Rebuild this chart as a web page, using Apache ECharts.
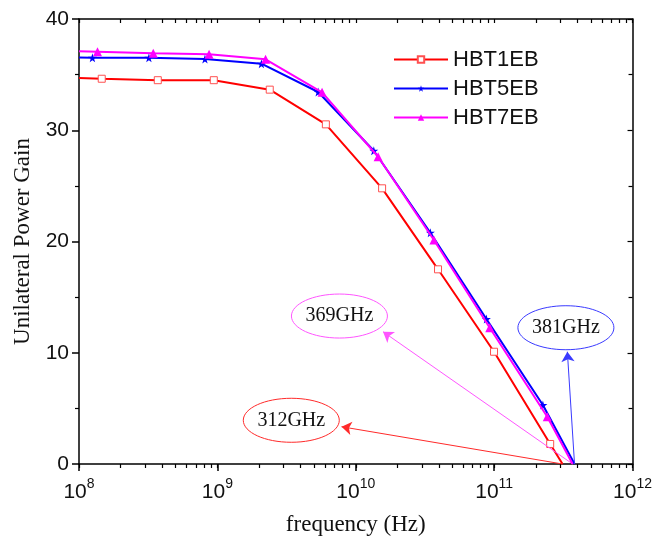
<!DOCTYPE html>
<html>
<head>
<meta charset="utf-8">
<script src="https://cdn.jsdelivr.net/npm/echarts@6/dist/echarts.min.js"></script>
<style>
html,body{margin:0;padding:0;background:#fff;}
#c{width:655px;height:547px;}
</style>
</head>
<body>
<div id="c"></div>
<script>
// ---- data ----
var seriesNames = ['HBT1EB', 'HBT5EB', 'HBT7EB'];
var freqHBT1 = [1e8, 1.46e8, 3.71e8, 9.42e8, 2.39e9, 6.08e9, 1.55e10, 3.93e10, 9.98e10, 2.54e11, 3.12e11];
var gainHBT1 = [34.7, 34.63, 34.5, 34.5, 33.65, 30.53, 24.78, 17.5, 10.09, 1.8, 0];
var freqHBT5 = [1e8, 1.25e8, 3.2e8, 8.13e8, 2.08e9, 5.35e9, 1.35e10, 3.46e10, 8.79e10, 2.25e11, 3.81e11];
var gainHBT5 = [36.55, 36.52, 36.52, 36.40, 35.98, 33.44, 28.16, 20.79, 13.03, 5.30, 0];
var freqHBT7 = [1e8, 1.36e8, 3.44e8, 8.71e8, 2.23e9, 5.71e9, 1.45e10, 3.67e10, 9.29e10, 2.42e11, 3.69e11];
var gainHBT7 = [37.1, 37.06, 36.92, 36.83, 36.38, 33.41, 27.62, 20.13, 12.25, 4.25, 0];
var xMajorTicks = [1e8, 1e9, 1e10, 1e11, 1e12];
// annotations per series (HBT1EB, HBT5EB, HBT7EB): label, arrow start, arrow end, ellipse centre
var annLabels = ['312GHz', '381GHz', '369GHz'];
var annStart = [[3.12e11, 0], [3.81e11, 0], [3.69e11, 0]];
var annEnd = [[7.89e9, 3.35], [3.38e11, 10.09], [1.574e10, 11.89]];
var annCentre = [[3.42e9, 3.93], [3.30e11, 12.25], [7.62e9, 13.3]];

var colors = ['#ff0000', '#0000ff', '#ff00ff'];
var annLineColors = ['#ff2a2a', '#3a3aff', '#ff55ff'];
var starPath = 'path://M50,0 L61,35 L98,35 L68,57 L79,91 L50,70 L21,91 L32,57 L2,35 L39,35 Z';

var minorTicks = [];
for (var e = 8; e < 12; e++) {
  for (var m = 1; m < 10; m++) minorTicks.push(m * Math.pow(10, e));
}
minorTicks.push(1e12);

function mk(freq, gain) {
  return freq.map(function (f, i) {
    var it = { value: [f, gain[i]] };
    if (i === 0 || i === freq.length - 1) it.symbol = 'none';
    return it;
  });
}

var serif = '"Liberation Serif", "Times New Roman", serif';
var sans = '"Liberation Sans", Arial, sans-serif';

var chart = echarts.init(document.getElementById('c'), null, { renderer: 'canvas' });

function logAxis(pos, opts) {
  var base = {
    type: 'log', logBase: 10, min: 1e8, max: 1e12, position: pos,
    gridIndex: 0, splitLine: { show: false },
    axisLine: { show: true, onZero: false, lineStyle: { color: '#000', width: 1.5 } },
    axisLabel: { show: false },
    axisTick: { show: false },
    minorTick: { show: false }
  };
  return Object.assign(base, opts);
}

var seriesData = [[freqHBT1, gainHBT1], [freqHBT5, gainHBT5], [freqHBT7, gainHBT7]];
var symbols = ['rect', starPath, 'triangle'];
var symbolSizes = [7, 9, 9];

var series = seriesData.map(function (d, k) {
  return {
    name: seriesNames[k],
    type: 'line',
    xAxisIndex: 0, yAxisIndex: 0,
    data: mk(d[0], d[1]),
    symbol: symbols[k],
    symbolSize: symbolSizes[k],
    showAllSymbol: true,
    lineStyle: { color: colors[k], width: 2 },
    itemStyle: k === 0 ? { color: '#fff', borderColor: '#ff5050', borderWidth: 1 } : { color: colors[k], borderWidth: 0 },
    z: k === 0 ? 3 : (k === 1 ? 4 : 5),
    animation: false,
    markLine: {
      silent: true, animation: false,
      symbol: ['none', 'arrow'], symbolSize: 10,
      label: { show: false },
      lineStyle: { color: annLineColors[k], width: 1, type: 'solid' },
      data: [[{ coord: annStart[k] }, { coord: annEnd[k] }]]
    }
  };
});

chart.setOption({
  backgroundColor: '#fff',
  animation: false,
  grid: { left: 79, top: 19, right: 22, bottom: 83, containLabel: false },
  legend: {
    left: 393, top: 47, orient: 'vertical', itemGap: 4, padding: 0,
    itemWidth: 54, itemHeight: 8,
    textStyle: { fontFamily: sans, fontSize: 22, color: '#111', lineHeight: 25 },
    data: seriesNames
  },
  xAxis: [
    logAxis('bottom', {
      name: 'frequency (Hz)', nameLocation: 'middle', nameGap: 49,
      nameTextStyle: { fontFamily: serif, fontSize: 23, color: '#111' },
      axisTick: { show: true, length: 7, inside: false, customValues: xMajorTicks, lineStyle: { color: '#000', width: 1.5 } },
      axisLabel: {
        show: true, margin: 13, customValues: xMajorTicks,
        formatter: function (v) {
          return '{b|10}{s|' + Math.round(Math.log10(v)) + '}';
        },
        rich: {
          b: { fontFamily: sans, fontSize: 21, color: '#111', verticalAlign: 'bottom' },
          s: { fontFamily: sans, fontSize: 14, color: '#111', verticalAlign: 'top', padding: [0, 0, 12, 0] }
        }
      }
    }),
    logAxis('bottom', {
      axisLine: { show: false },
      axisTick: { show: true, length: 4, inside: false, customValues: minorTicks, lineStyle: { color: '#000', width: 1.2 } }
    }),
    logAxis('top', {
      axisTick: { show: true, length: 4, inside: true, customValues: minorTicks, lineStyle: { color: '#000', width: 1.2 } }
    })
  ],
  yAxis: [
    {
      type: 'value', min: 0, max: 40, interval: 10, position: 'left',
      name: 'Unilateral Power Gain', nameLocation: 'middle', nameGap: 45,
      nameTextStyle: { fontFamily: serif, fontSize: 23, color: '#111' },
      splitLine: { show: false },
      axisLine: { show: true, onZero: false, lineStyle: { color: '#000', width: 1.5 } },
      axisTick: { show: true, length: 7, inside: false, lineStyle: { color: '#000', width: 1.5 } },
      minorTick: { show: true, splitNumber: 2, length: 4, lineStyle: { color: '#000', width: 1.2 } },
      axisLabel: { margin: 10, fontFamily: sans, fontSize: 21, color: '#111' }
    },
    {
      type: 'value', min: 0, max: 40, interval: 10, position: 'right',
      splitLine: { show: false },
      axisLine: { show: true, onZero: false, lineStyle: { color: '#000', width: 1.5 } },
      axisTick: { show: true, length: 5, inside: true, lineStyle: { color: '#000', width: 1.2 } },
      minorTick: { show: true, splitNumber: 2, length: 4, lineStyle: { color: '#000', width: 1.2 } },
      axisLabel: { show: false }
    }
  ],
  series: series
});

// ellipse annotations
var graphics = annLabels.map(function (txt, k) {
  var p = chart.convertToPixel({ xAxisIndex: 0, yAxisIndex: 0 }, annCentre[k]);
  return {
    type: 'ellipse',
    shape: { cx: p[0], cy: p[1], rx: 48, ry: 22 },
    style: { fill: 'rgba(255,255,255,0)', stroke: annLineColors[k], lineWidth: 1 },
    z: 10,
    textContent: { style: { text: txt, font: '20px ' + serif, fill: '#111' } },
    textConfig: { position: 'inside' }
  };
});
chart.setOption({ graphic: graphics });
</script>
</body>
</html>
